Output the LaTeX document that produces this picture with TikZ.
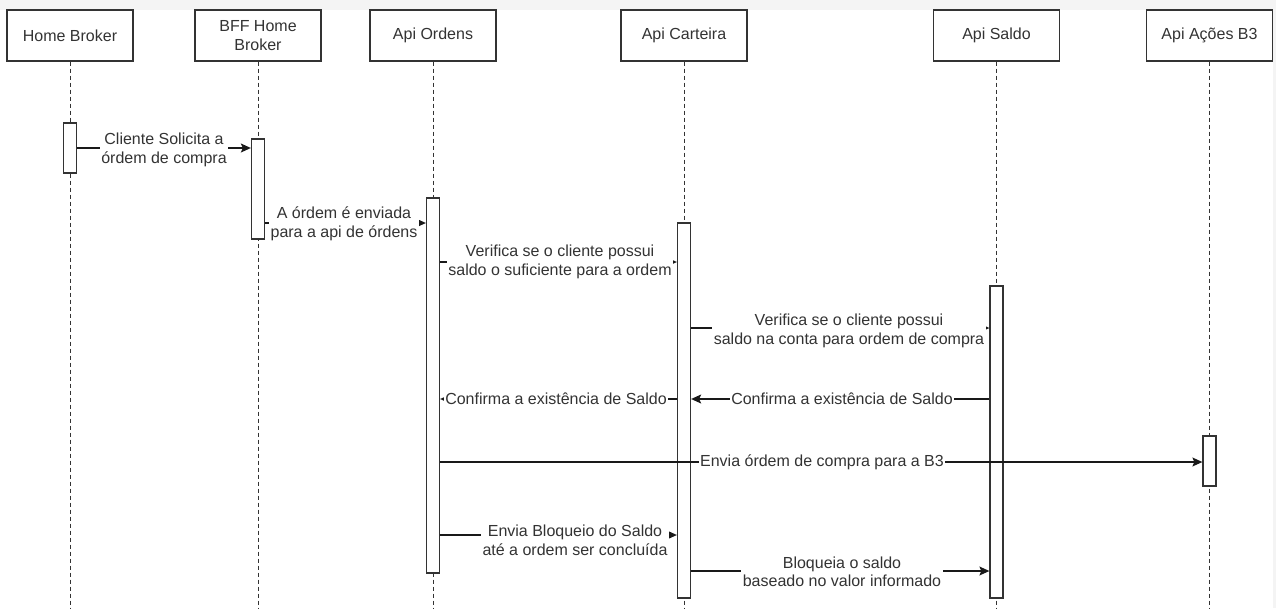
\documentclass[tikz,border=0pt]{standalone}
\usepackage{fontspec}
\setmainfont{Liberation Sans}
\usetikzlibrary{arrows.meta}
\definecolor{bggray}{HTML}{F4F4F4}
\definecolor{ink}{HTML}{333333}
\tikzset{
  actor/.style={draw=ink, line width=1.3pt, fill=white, minimum width=126pt, minimum height=51pt,
    inner sep=0pt, align=center, text=ink, font=\fontsize{16}{18.5}\selectfont},
  lifeline/.style={draw=ink, line width=1pt, dash pattern=on 4pt off 3pt},
  act/.style={draw=ink, line width=1.3pt, fill=white, minimum width=13pt, inner sep=0pt},
  msg/.style={draw=black!90, line width=1.2pt, -{Stealth[length=10pt,width=9pt,inset=2pt]}},
  lbl/.style={fill=white, inner sep=1.5pt, align=center, text=ink, font=\fontsize{16}{18.5}\selectfont},
}
\begin{document}
\begin{tikzpicture}[x=1pt,y=-1pt]
\useasboundingbox (0,0) rectangle (1276,608);
\fill[bggray] (0,0) rectangle (1276,608);
\fill[white] (0,10) rectangle (1273,608);

% actors
\node[actor] (hb)  at (70,35.5)    {Home Broker};
\node[actor] (bff) at (258,35.5)   {BFF Home\\Broker};
\node[actor] (ord) at (433,35.5)   {Api Ordens};
\node[actor] (car) at (684,35.5)   {Api Carteira};
\node[actor] (sal) at (996.5,35.5) {Api Saldo};
\node[actor] (b3)  at (1209.5,35.5){Api Ações B3};

% lifelines
\foreach \n in {hb,bff,ord,car,sal,b3}
  \draw[lifeline] (\n.south) -- (\n.south |- 0,608);

% activations
\node[act, minimum height=50pt]  (hbA)  at (70,148) {};
\node[act, minimum height=100pt] (bffA) at (258,189) {};
\node[act, minimum height=375pt] (ordA) at (433,385.5) {};
\node[act, minimum height=375pt] (carA) at (684,410.5) {};
\node[act, minimum height=312pt] (salA) at (996.5,442) {};
\node[act, minimum height=50pt]  (b3A)  at (1209.5,461) {};

% message heights
\coordinate (y1) at (0,148);
\coordinate (y2) at (0,223);
\coordinate (y3) at (0,262);
\coordinate (y4) at (0,328);
\coordinate (y5) at (0,399);
\coordinate (y7) at (0,462);
\coordinate (y8) at (0,535);
\coordinate (y9) at (0,571);

% messages
\draw[msg] (hbA.east |- y1) -- (bffA.west |- y1);
\node[lbl] (l1) at (164,150) {Cliente Solicita a\\órdem de compra};

\draw[msg] (bffA.east |- y2) -- (ordA.west |- y2);
\node[lbl] (l2) at (344,224) {A órdem é enviada\\para a api de órdens};

\draw[msg] (ordA.east |- y3) -- (carA.west |- y3);
\node[lbl] (l3) at (560,262) {Verifica se o cliente possui\\saldo o suficiente para a ordem};

\draw[msg] (carA.east |- y4) -- (salA.west |- y4);
\node[lbl] (l4) at (849,331) {Verifica se o cliente possui\\saldo na conta para ordem de compra};

\draw[msg] (salA.west |- y5) -- (carA.east |- y5);
\node[lbl] (l5) at (842,399) {Confirma a existência de Saldo};

\draw[msg] (carA.west |- y5) -- (ordA.east |- y5);
\node[lbl] (l6) at (556,399) {Confirma a existência de Saldo};

\draw[msg] (ordA.east |- y7) -- (b3A.west |- y7);
\node[lbl] (l7) at (822,462) {Envia órdem de compra para a B3};

\draw[msg] (ordA.east |- y8) -- (carA.west |- y8);
\node[lbl] (l8) at (575,540.5) {Envia Bloqueio do Saldo\\até a ordem ser concluída};

\draw[msg] (carA.east |- y9) -- (salA.west |- y9);
\node[lbl] (l9) at (842,572) {Bloqueia o saldo\\baseado no valor informado};
\end{tikzpicture}
\end{document}
